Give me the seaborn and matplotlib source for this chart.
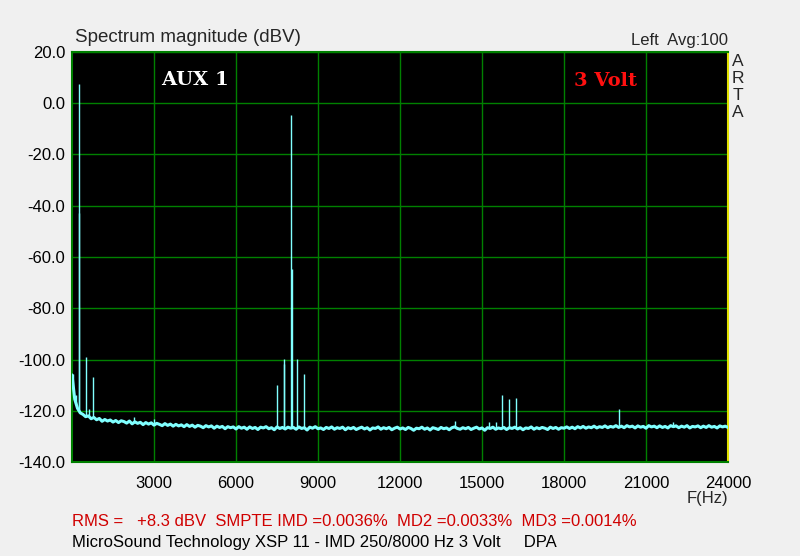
import numpy as np
import pandas as pd
import matplotlib
matplotlib.use("Agg")
import matplotlib.pyplot as plt
import seaborn as sns

# ---------------- data ----------------
freq_step_hz = 100
floor_db = [
    -106.0, -115.5, -119.0, -120.8, -121.4, -122.3, -122.0, -123.1, -122.6, -123.5, -123.0,
    -124.1, -123.4, -124.0, -123.6, -124.4, -123.8, -124.6, -123.9, -124.2, -124.8,
    -124.0, -125.1, -124.3, -124.9, -124.5, -125.4, -124.6, -125.2, -124.7, -125.6,
    -124.9, -125.3, -125.8, -125.0, -125.7, -125.2, -126.0, -125.3, -125.9, -125.5,
    -126.2, -125.4, -126.1, -125.6, -126.4, -125.7, -126.0, -126.6, -125.8, -126.3,
    -125.9, -126.8, -126.0, -126.5, -126.1, -127.0, -126.2, -126.6, -126.3, -127.1,
    -126.2, -126.8, -126.4, -127.2, -126.3, -126.9, -126.5, -127.3, -126.4, -126.7,
    -126.2, -127.0, -126.6, -127.4, -126.3, -126.9, -126.5, -127.1, -126.4, -126.8,
    -126.5, -127.2, -126.3, -126.9, -126.6, -127.5, -126.4, -126.8, -126.2, -127.0,
    -126.7, -127.3, -126.5, -126.9, -126.3, -127.2, -126.6, -126.9, -126.4, -127.4,
    -126.6, -127.0, -126.5, -127.3, -126.8, -126.4, -127.1, -126.6, -127.5, -126.7,
    -126.9, -126.3, -127.2, -126.6, -127.0, -126.5, -127.4, -126.8, -126.4, -127.1,
    -126.7, -127.3, -126.5, -126.9, -127.6, -126.8, -127.0, -126.4, -127.2, -126.7,
    -127.5, -126.6, -126.9, -127.3, -126.5, -127.0, -126.7, -127.4, -126.6, -126.3,
    -126.9, -127.2, -126.6, -127.0, -126.5, -127.3, -126.8, -126.4, -127.1, -126.7,
    -127.6, -126.6, -126.9, -126.4, -127.2, -126.7, -127.0, -126.5, -127.3, -126.6,
    -126.9, -126.4, -127.1, -126.6, -127.4, -126.7, -126.9, -126.3, -127.2, -126.6,
    -127.0, -126.5, -126.8, -127.3, -126.4, -126.9, -126.5, -127.2, -126.6, -126.8,
    -126.3, -126.9, -126.4, -127.0, -126.2, -126.7, -126.1, -126.8, -126.3, -126.6,
    -126.0, -126.7, -126.2, -126.5, -125.9, -126.6, -126.1, -126.4, -125.8, -126.5,
    -126.0, -126.6, -125.8, -126.3, -126.0, -126.7, -125.9, -126.4, -126.1, -126.8,
    -125.8, -126.3, -126.0, -126.6, -125.9, -126.5, -126.1, -126.7, -125.8, -126.2,
    -125.9, -126.6, -126.0, -126.4, -125.8, -126.7, -126.1, -126.3, -125.9, -126.6,
    -126.0, -126.5, -125.8, -126.4, -126.1, -126.7, -125.9, -126.3, -126.0, -126.5,
]
peak_freqs_hz = [50, 150, 250, 270, 500, 630, 750, 2250, 3000,
                 7500, 7750, 7770, 8000, 8035, 8250, 8500,
                 14000, 15250, 15500, 15750, 16000, 16250, 20000, 22000]
peak_levels_db = [-105.5, -114.0, 7.5, -43.0, -99.0, -119.5, -107.0, -122.6, -123.2,
                  -110.0, -99.8, -101.8, -4.6, -64.7, -99.8, -105.7,
                  -123.8, -124.5, -124.5, -113.9, -115.4, -115.0, -119.3, -124.5]
x_ticks = [3000, 6000, 9000, 12000, 15000, 18000, 21000, 24000]
y_ticks = [20, 0, -20, -40, -60, -80, -100, -120, -140]

# ---------------- style ----------------
sns.set_theme(style="dark")
plt.rcParams["font.family"] = ["Liberation Sans", "DejaVu Sans"]

bg = "#F0F0F0"
grid_green = "#008000"
trace = "#80FFFF"
red = "#D00000"

fig = plt.figure(figsize=(8.0, 5.56), dpi=100, facecolor=bg)
ax = fig.add_axes([0.09, 0.169, 0.82, 0.7375])
ax.set_facecolor("black")

freqs = np.arange(len(floor_db)) * freq_step_hz
df = pd.DataFrame({"freq": freqs, "level": floor_db})
sns.lineplot(data=df, x="freq", y="level", ax=ax, color=trace, lw=2.2,
             estimator=None, sort=False, zorder=3)

base = np.interp(peak_freqs_hz, freqs, floor_db)
ax.vlines(peak_freqs_hz, base, peak_levels_db, color=trace, lw=1.0, zorder=3)

ax.set_xlim(0, 24000)
ax.set_ylim(-140, 20)
ax.set_xticks(x_ticks)
ax.set_xticklabels([str(t) for t in x_ticks])
ax.set_yticks(y_ticks)
ax.set_yticklabels([f"{t:.1f}" for t in y_ticks])
ax.grid(True, color=grid_green, lw=1.0)
ax.set_axisbelow(True)
for s in ["left", "top", "bottom"]:
    ax.spines[s].set_color(grid_green)
    ax.spines[s].set_linewidth(1.5)
ax.spines["right"].set_color("#E0E000")
ax.spines["right"].set_linewidth(1.5)
ax.tick_params(axis="x", length=0, labelsize=12, colors="black", pad=10)
ax.tick_params(axis="y", length=0, labelsize=12, colors="black", pad=5)
ax.set_xlabel("")
ax.set_ylabel("")

fs = 12
fig.text(75 / 800, 1 - 38 / 556, "Spectrum magnitude (dBV)", fontsize=13.5, va="center", ha="left")
fig.text(728 / 800, 1 - 40 / 556, "Left  Avg:100", fontsize=fs, va="center", ha="right")
for i, ch in enumerate("ARTA"):
    fig.text(738 / 800, 1 - (61 + 17.3 * i) / 556, ch, fontsize=12.5, va="center", ha="center")
fig.text(728 / 800, 1 - 499 / 556, "F(Hz)", fontsize=fs, va="center", ha="right")
fig.text(72 / 800, 1 - 522 / 556,
         "RMS =   +8.3 dBV  SMPTE IMD =0.0036%  MD2 =0.0033%  MD3 =0.0014%",
         fontsize=fs, color=red, va="center", ha="left")
fig.text(72 / 800, 1 - 543 / 556,
         "MicroSound Technology XSP 11 - IMD 250/8000 Hz 3 Volt     DPA",
         fontsize=fs, color="black", va="center", ha="left")

fig.text(195 / 800, 1 - 80 / 556, "AUX 1", fontsize=14, color="white",
         fontweight="bold", family=["DejaVu Serif"], va="center", ha="center")
fig.text(605 / 800, 1 - 81 / 556, "3 Volt", fontsize=14, color="#FF1010",
         fontweight="bold", family=["DejaVu Serif"], va="center", ha="center")

fig.savefig("out.png", dpi=100, facecolor=bg)
